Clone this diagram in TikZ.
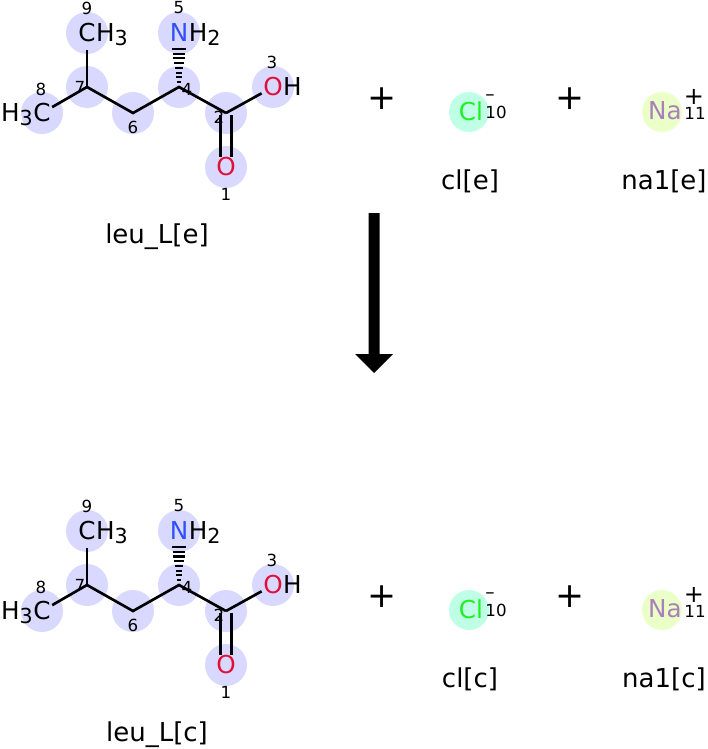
\documentclass[tikz,border=0pt]{standalone}
\usepackage{fontspec}
\setmainfont{DejaVu Sans}
\usetikzlibrary{calc}
\definecolor{hl}{HTML}{D9D9FF}
\definecolor{clbg}{HTML}{BFFFE6}
\definecolor{nabg}{HTML}{EBFFC8}
\definecolor{clgreen}{HTML}{1FF01F}
\definecolor{napurple}{HTML}{AA80BA}
\definecolor{nblue}{HTML}{3050F8}
\definecolor{ored}{HTML}{E0103C}
\tikzset{
  bond/.style={line width=2pt, black},
  atomtxt/.style={inner sep=0pt, font=\fontsize{18.5}{19}\selectfont},
  idx/.style={inner sep=0pt, font=\fontsize{12.5}{12.5}\selectfont},
  mlabel/.style={inner sep=0pt, anchor=base, font=\fontsize{19.5}{20}\selectfont},
  plussign/.style={inner sep=0pt, font=\fontsize{26}{26}\selectfont},
}
\newcommand\subs[1]{\raisebox{-3pt}{\fontsize{15.5}{15.5}\selectfont #1}}
\newcommand\leumol[3]{%
\begin{scope}[shift={(0,#2)}]
  \coordinate (#1c9) at (87,33);
  \coordinate (#1n5) at (179,33);
  \coordinate (#1c7) at (87,87);
  \coordinate (#1c4) at (179,87);
  \coordinate (#1c8) at (42,113);
  \coordinate (#1c6) at (133,113);
  \coordinate (#1c2) at (226,113);
  \coordinate (#1o3) at (273,87);
  \coordinate (#1o1) at (226,167);
  \foreach \a in {c9,n5,c7,c4,c8,c6,c2,o3,o1} \fill[hl] (#1\a) circle (21);
  \node[idx] (#1i9) at (87,8) {9};
  \node[idx] (#1i5) at (179,8) {5};
  \node[idx] (#1i8) at (41,89) {8};
  \node[idx] (#1i7) at (80,87) {7};
  \node[idx] (#1i6) at (133,127) {6};
  \node[idx] (#1i4) at (187,89) {4};
  \node[idx] (#1i2) at (219,117) {2};
  \node[idx] (#1i3) at (272,62) {3};
  \node[idx] (#1i1) at (226,194) {1};
  \draw[bond, shorten <=12.75pt] (#1c9) -- (#1c7);
  \draw[bond, shorten <=8.8pt] (#1c8) -- (#1c7);
  \draw[bond] (#1c7) -- (#1c6) -- (#1c4) -- (#1c2);
  \draw[bond, shorten >=9.75pt] (#1c2) -- (#1o3);
  \draw[bond, shorten <=1.5pt, shorten >=7.5pt] ($(#1c2)+(-5.5,0)$) -- ($(#1o1)+(-5.5,0)$);
  \draw[bond, shorten <=1.5pt, shorten >=7.5pt] ($(#1c2)+(5.5,0)$) -- ($(#1o1)+(5.5,0)$);
  \foreach \i in {0,...,7} {
    \pgfmathsetmacro\yy{49+\i*33/7}
    \pgfmathsetmacro\hw{7-\i*5/7}
    \draw[line width=1.6pt] (179-\hw,\yy) -- (179+\hw,\yy);
  }
  \node[atomtxt] (#1c9t) at (#1c9) {C};
  \node[atomtxt, anchor=base west] (#1c9h) at (#1c9t.base east) {H\subs{3}};
  \node[atomtxt, text=nblue] (#1n5t) at (#1n5) {N};
  \node[atomtxt, anchor=base west] (#1n5h) at (#1n5t.base east) {H\subs{2}};
  \node[atomtxt] (#1c8t) at (#1c8) {C};
  \node[atomtxt, anchor=base east] (#1c8h) at (#1c8t.base west) {H\subs{3}};
  \node[atomtxt, text=ored] (#1o3t) at (#1o3) {O};
  \node[atomtxt, anchor=base west] (#1o3h) at (#1o3t.base east) {H};
  \node[atomtxt, text=ored] (#1o1t) at (#1o1) {O};
  \node[mlabel] (#1lab) at (157,243) {#3};
  % ions
  \fill[clbg] (469,112) circle (20);
  \node[atomtxt, text=clgreen] (#1cl) at (471,111) {Cl};
  \node[inner sep=0pt, font=\fontsize{14}{14}\selectfont] (#1clq) at (490,98) {–};
  \node[idx] (#1cli) at (496,112) {10};
  \fill[nabg] (662,112) circle (20);
  \node[atomtxt, text=napurple] (#1na) at (665,111) {Na};
  \node[inner sep=0pt, font=\fontsize{18}{18}\selectfont] (#1naq) at (694,97) {+};
  \node[idx] (#1nai) at (695,113) {11};
  \node[plussign] (#1p1) at (382,99) {+};
  \node[plussign] (#1p2) at (570,99) {+};
\end{scope}}
\begin{document}
\begin{tikzpicture}[x=0.75pt,y=-0.75pt]
  \useasboundingbox (0,0) rectangle (707,749);
  \leumol{t}{0}{leu\_L[e]}
  \node[mlabel] (tcllab) at (470,189) {cl[e]};
  \node[mlabel] (tnalab) at (664,189) {na1[e]};
  \leumol{b}{498}{leu\_L[c]}
  \node[mlabel] (bcllab) at (470,687) {cl[c]};
  \node[mlabel] (bnalab) at (664,687) {na1[c]};
  \coordinate (arrtop) at (374,213);
  \coordinate (arrtip) at (374,373);
  \fill ($(arrtop)+(-5.5,0)$) -- ($(arrtop)+(5.5,0)$) -- (379.5,354) -- (393,354)
        -- (arrtip) -- (355,354) -- (368.5,354) -- cycle;
\end{tikzpicture}
\end{document}
